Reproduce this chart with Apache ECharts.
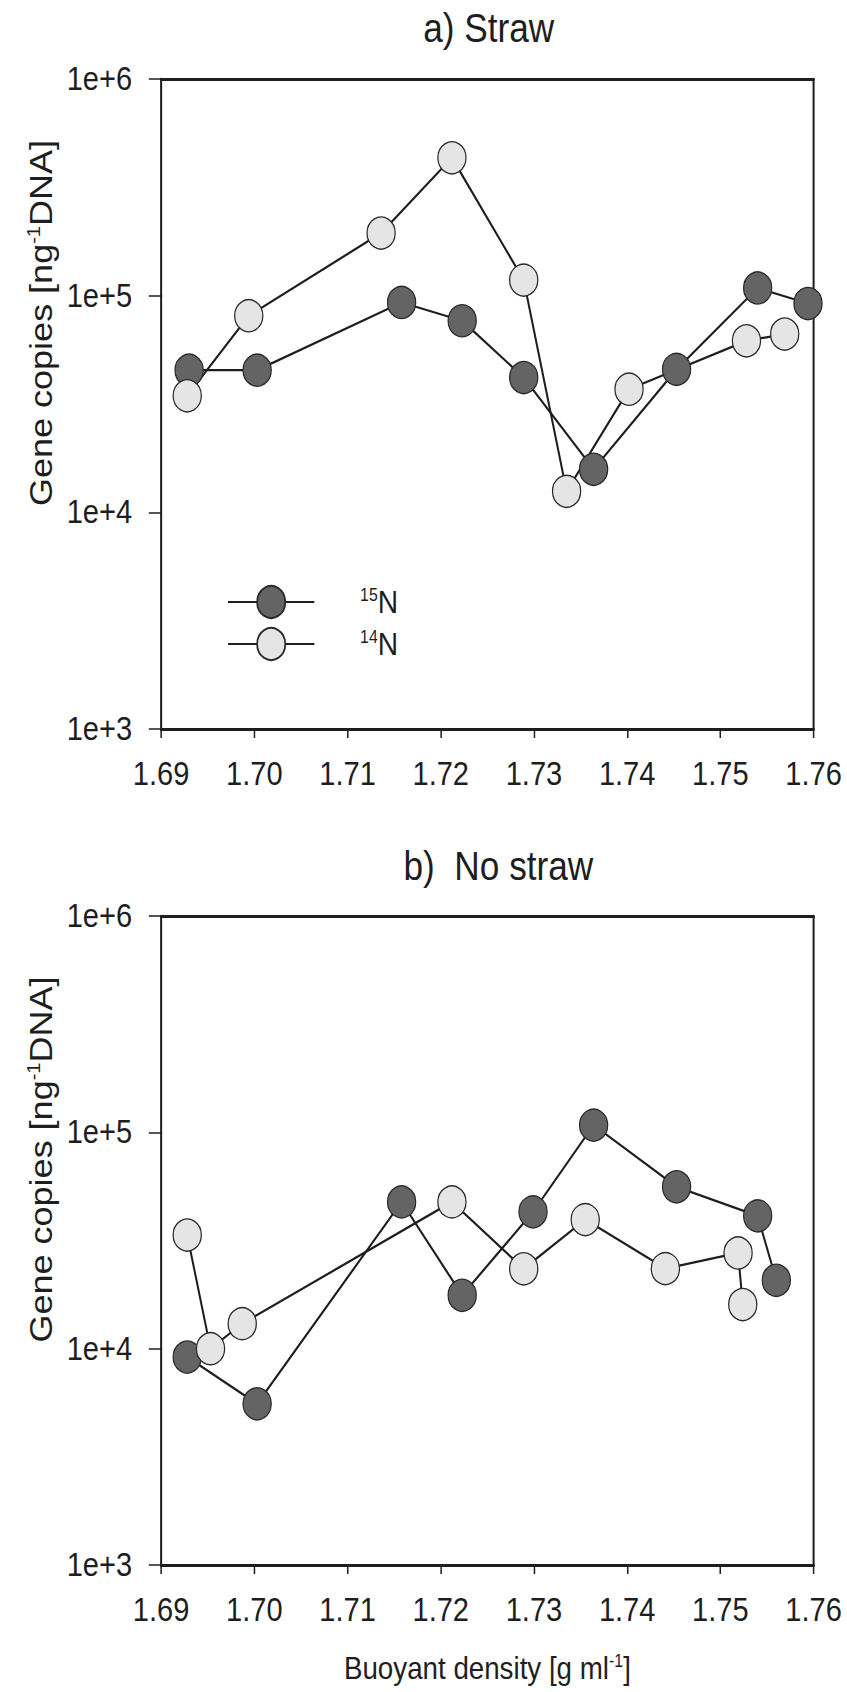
<!DOCTYPE html>
<html>
<head>
<meta charset="utf-8">
<script src="https://cdn.jsdelivr.net/npm/echarts@6/dist/echarts.min.js"></script>
<style>
  html, body { margin: 0; padding: 0; background: #ffffff; overflow: hidden; }
  /* the figure is laid out wider and then condensed horizontally */
  #chart { width: 962px; height: 1692px; transform: scaleX(0.8805); transform-origin: 0 0; }
</style>
</head>
<body>
<div id="chart"></div>
<script>
// Buoyant density fractions (g/ml) and gene copies per ng DNA

// a) Straw
const strawDensity15N = [1.6930, 1.7003, 1.7158, 1.7223, 1.7289, 1.7364, 1.7453, 1.7540, 1.7594];
const strawCopies15N  = [45300, 45300, 93000, 76600, 41900, 15800, 45700, 108500, 92000];
const strawDensity14N = [1.6928, 1.6994, 1.7136, 1.7212, 1.7289, 1.7335, 1.7402, 1.7528, 1.7569];
const strawCopies14N  = [34500, 80800, 194500, 433000, 118000, 12500, 37000, 61900, 66500];

// b) No straw
const noStrawDensity15N = [1.6928, 1.7003, 1.7158, 1.7223, 1.7299, 1.7364, 1.7453, 1.7540, 1.7560];
const noStrawCopies15N  = [9150, 5560, 47700, 17650, 42900, 108000, 56000, 41100, 20700];
const noStrawDensity14N = [1.6928, 1.6953, 1.6987, 1.7212, 1.7289, 1.7355, 1.7441, 1.7519, 1.7524];
const noStrawCopies14N  = [33500, 10000, 13050, 47700, 23400, 39500, 23450, 27700, 16000];

// axis settings
const densityMin = 1.69, densityMax = 1.76, densityStep = 0.01;
const copiesMin = 1e3, copiesMax = 1e6;
const panelTitles = ['a) Straw', 'b)  No straw'];
const seriesNames = ['15N', '14N'];
const superscripts = { '15N': '15', '14N': '14' };

const FONT = '"Liberation Sans", Arial, Helvetica, sans-serif';
const INK = '#1e1e1e';

function pairs(xs, ys) { return xs.map((x, i) => [x, ys[i]]); }

const grids = [
  { left: 183, top: 79, width: 741, height: 650, outerBoundsMode: 'none', containLabel: false },
  { left: 183, top: 916, width: 741, height: 649, outerBoundsMode: 'none', containLabel: false }
];

function xAxisFor(gridIndex, withName) {
  return {
    type: 'value', gridIndex: gridIndex, position: 'bottom',
    min: densityMin, max: densityMax, interval: densityStep,
    axisLine: { show: true, onZero: false, lineStyle: { color: INK, width: 3 } },
    axisTick: { show: true, inside: false, length: 9, lineStyle: { color: INK, width: 1.7 } },
    axisLabel: { show: true, margin: 28, color: INK, fontFamily: FONT, fontSize: 33,
      formatter: v => v.toFixed(2) },
    splitLine: { show: false },
    name: withName ? '{t|Buoyant density [g ml}{s|-1}{t|]}' : '',
    nameLocation: 'middle', nameGap: 87,
    nameTextStyle: { color: INK, fontFamily: FONT,
      rich: { t: { fontSize: 31.5, fontFamily: FONT, color: INK },
              s: { fontSize: 18, fontFamily: FONT, color: INK, verticalAlign: 'top', padding: [0, 0, 12, 0] } } }
  };
}
function xTopFrame(gridIndex) {
  return {
    type: 'value', gridIndex: gridIndex, position: 'top',
    min: densityMin, max: densityMax, interval: densityStep,
    axisLine: { show: true, onZero: false, lineStyle: { color: INK, width: 3 } },
    axisTick: { show: false }, axisLabel: { show: false }, splitLine: { show: false }
  };
}
function yAxisFor(gridIndex) {
  return {
    type: 'log', logBase: 10, gridIndex: gridIndex, position: 'left',
    min: copiesMin, max: copiesMax,
    axisLine: { show: true, onZero: false, lineStyle: { color: INK, width: 2.3 } },
    axisTick: { show: true, inside: false, length: 14, lineStyle: { color: INK, width: 1.5 } },
    minorTick: { show: false },
    axisLabel: { show: true, margin: 33, color: INK, fontFamily: FONT, fontSize: 33,
      formatter: v => '1e+' + Math.round(Math.log10(v)) },
    splitLine: { show: false },
    name: '{t|Gene copies [ng}{s|-1}{t|DNA]}',
    nameLocation: 'middle', nameRotate: 90, nameGap: 119,
    nameTextStyle: { color: INK, fontFamily: FONT, padding: [0, 0, 0, 162],
      rich: { t: { fontSize: 36, fontFamily: FONT, color: INK },
              s: { fontSize: 20, fontFamily: FONT, color: INK, verticalAlign: 'top', padding: [0, 0, 14, 0] } } }
  };
}
function yRightFrame(gridIndex) {
  return {
    type: 'log', logBase: 10, gridIndex: gridIndex, position: 'right',
    min: copiesMin, max: copiesMax,
    axisLine: { show: true, onZero: false, lineStyle: { color: INK, width: 2.3 } },
    axisTick: { show: false }, axisLabel: { show: false }, splitLine: { show: false }
  };
}

const styles = {
  '15N': { fill: '#646464' },
  '14N': { fill: '#e5e5e5' }
};

function lineSeries(name, xAxisIndex, yAxisIndex, data) {
  return {
    name: name, type: 'line', xAxisIndex: xAxisIndex, yAxisIndex: yAxisIndex,
    data: data, symbol: 'circle', symbolSize: 32, showSymbol: true,
    lineStyle: { color: INK, width: 2.3 },
    itemStyle: { color: styles[name].fill, borderColor: '#2a2a2a', borderWidth: 1.4 },
    emphasis: { disabled: true },
    animation: false
  };
}

const option = {
  backgroundColor: '#ffffff',
  animation: false,
  title: [
    { text: panelTitles[0], left: 550, top: 3, textAlign: 'center',
      textStyle: { fontFamily: FONT, fontSize: 40, fontWeight: 'normal', color: INK } },
    { text: panelTitles[1], left: 561, top: 841, textAlign: 'center',
      textStyle: { fontFamily: FONT, fontSize: 40, fontWeight: 'normal', color: INK } }
  ],
  legend: {
    data: seriesNames, orient: 'vertical', left: 258, top: 585, padding: 0,
    itemWidth: 98, itemHeight: 40, itemGap: 8,
    selectedMode: false,
    formatter: name => '{sup|' + superscripts[name] + '}{n|N}',
    textStyle: { fontFamily: FONT, color: INK,
      rich: { sup: { fontSize: 18, fontFamily: FONT, color: INK, verticalAlign: 'top', padding: [0, 0, 11, 47] },
              n: { fontSize: 32, fontFamily: FONT, color: INK } } }
  },
  grid: grids,
  xAxis: [xAxisFor(0, false), xAxisFor(1, true), xTopFrame(0), xTopFrame(1)],
  yAxis: [yAxisFor(0), yAxisFor(1), yRightFrame(0), yRightFrame(1)],
  series: [
    lineSeries('15N', 0, 0, pairs(strawDensity15N, strawCopies15N)),
    lineSeries('14N', 0, 0, pairs(strawDensity14N, strawCopies14N)),
    lineSeries('15N', 1, 1, pairs(noStrawDensity15N, noStrawCopies15N)),
    lineSeries('14N', 1, 1, pairs(noStrawDensity14N, noStrawCopies14N))
  ]
};

const chart = echarts.init(document.getElementById('chart'), null, { renderer: 'svg' });
chart.setOption(option);
</script>
</body>
</html>
